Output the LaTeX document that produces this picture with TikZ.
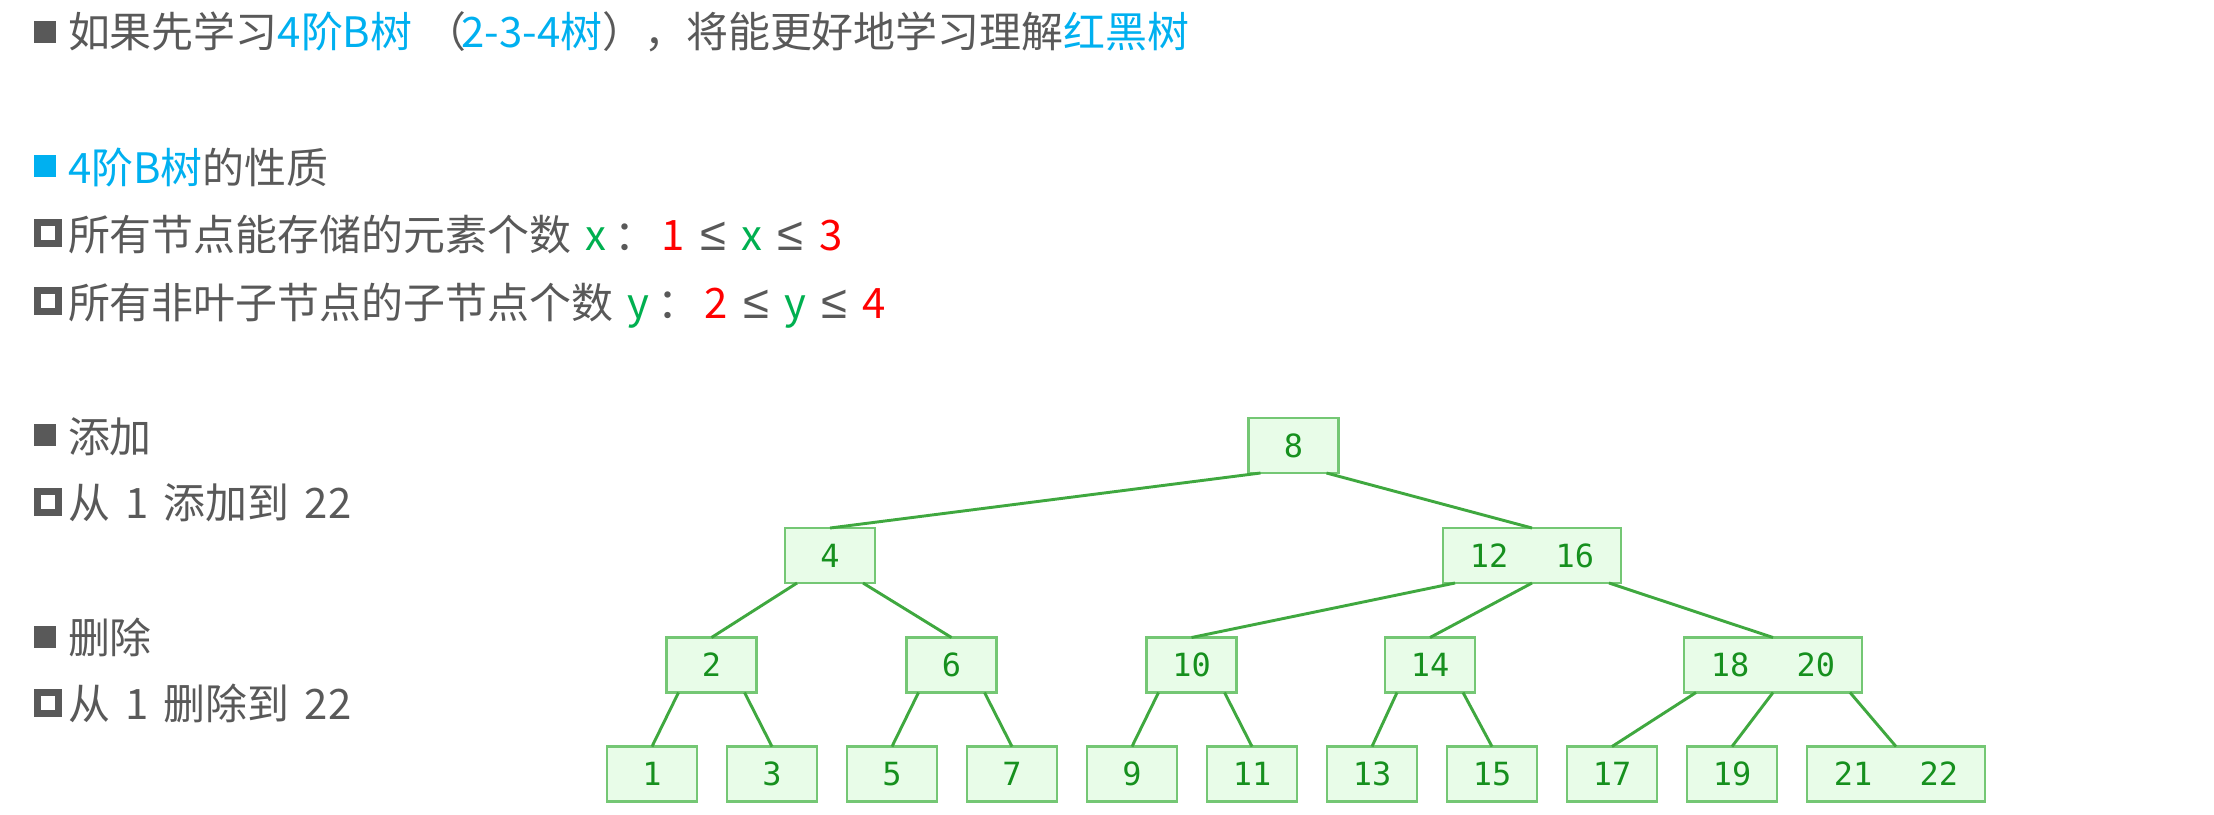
\documentclass[tikz,border=0pt]{standalone}
\usepackage{fontspec}
\setmainfont{Noto Sans CJK SC}
\newfontfamily\treefont{DejaVu Sans Mono}
\newfontfamily\relfont{Liberation Sans}
\newcommand{\myle}{{\relfont\fontsize{17pt}{18pt}\selectfont ≤}}
\newcommand{\gp}{\hspace{5.5pt}}
\newcommand{\kg}{\hspace{17pt}}
\usetikzlibrary{calc}
\definecolor{txtgray}{HTML}{595959}
\definecolor{hlblue}{HTML}{00B0F0}
\definecolor{vgreen}{HTML}{00B050}
\definecolor{vred}{HTML}{FF0000}
\definecolor{boxfill}{HTML}{E8FCE8}
\definecolor{boxdraw}{HTML}{74C774}
\definecolor{keytext}{HTML}{16901E}
\definecolor{edgecol}{HTML}{3FA83F}
\begin{document}
\begin{tikzpicture}[x=0.36pt,y=-0.36pt,
  txtline/.style={anchor=base west, inner sep=0pt, outer sep=0pt, text=txtgray,
    font=\fontsize{15.1pt}{18pt}\selectfont},
  fullsq/.style={fill=txtgray, draw=none},
  bluesq/.style={fill=hlblue, draw=none},
  hollowsq/.style={draw=txtgray, line width=2.6pt, fill=white},
  key/.style={draw=boxdraw, fill=boxfill, line width=0.75pt, minimum height=19.8pt,
    minimum width=32.4pt, inner sep=0pt, outer sep=0pt, text=keytext,
    font=\treefont\fontsize{11.5pt}{12pt}\selectfont},
  keytwo/.style={key, minimum width=64.1pt},
  link/.style={draw=edgecol, line width=1.05pt}]
\useasboundingbox[fill=white] (0,0) rectangle (2214,814);

% bullets
\fill[fullsq] (34,21) rectangle (56,43);
\fill[bluesq] (34,155) rectangle (56,177);
\draw[hollowsq] (37.6,222.6) rectangle (58.4,243.4);
\draw[hollowsq] (37.6,290.6) rectangle (58.4,311.4);
\fill[fullsq] (34,424) rectangle (56,446);
\draw[hollowsq] (37.6,491.6) rectangle (58.4,512.4);
\fill[fullsq] (34,626) rectangle (56,648);
\draw[hollowsq] (37.6,692.6) rectangle (58.4,713.4);

% text lines
\node[txtline] (l1) at (68,47) {如果先学习\textcolor{hlblue}{4阶B树}\hspace{4.5pt}（\hspace{-2pt}\textcolor{hlblue}{2-3-4树}），将能更好地学习理解\textcolor{hlblue}{红黑树}};
\node[txtline] (l2) at (68,183) {\textcolor{hlblue}{4阶B树}的性质};
\node[txtline] (l3) at (68,250) {所有节点能存储的元素个数\hspace{5pt}\textcolor{vgreen}{x}\hspace{3pt}：\hspace{2pt}\textcolor{vred}{1}\gp\myle\gp\textcolor{vgreen}{x}\gp\myle\gp\textcolor{vred}{3}};
\node[txtline] (l4) at (68,318) {所有非叶子节点的子节点个数\hspace{5pt}\textcolor{vgreen}{y}\hspace{3pt}：\hspace{2pt}\textcolor{vred}{2}\gp\myle\gp\textcolor{vgreen}{y}\gp\myle\gp\textcolor{vred}{4}};
\node[txtline] (l5) at (68,452) {添加};
\node[txtline] (l6) at (68,518) {从\gp 1\gp 添加到\gp 22};
\node[txtline] (l7) at (68,653) {删除};
\node[txtline] (l8) at (68,719) {从\gp 1\gp 删除到\gp 22};

% tree nodes
\node[key] (n8) at (1293.5,445.5) {8};
\node[key] (n4) at (830,555.5) {4};
\node[keytwo] (n1216) at (1532,555.5) {12\kg 16};
\node[key] (n2) at (711.5,665) {2};
\node[key] (n6) at (951.5,665) {6};
\node[key] (n10) at (1191.5,665) {10};
\node[key] (n14) at (1430,665) {14};
\node[keytwo] (n1820) at (1773,665) {18\kg 20};
\node[key] (n1) at (652,774) {1};
\node[key] (n3) at (772,774) {3};
\node[key] (n5) at (892,774) {5};
\node[key] (n7) at (1012,774) {7};
\node[key] (n9) at (1132,774) {9};
\node[key] (n11) at (1252,774) {11};
\node[key] (n13) at (1372,774) {13};
\node[key] (n15) at (1492,774) {15};
\node[key] (n17) at (1612,774) {17};
\node[key] (n19) at (1732,774) {19};
\node[keytwo] (n2122) at (1896,774) {21\kg 22};

% links
\draw[link] ($(n8.south west)+(12,0)$) -- (n4.north);
\draw[link] ($(n8.south east)+(-12,0)$) -- (n1216.north);
\draw[link] ($(n4.south west)+(12,0)$) -- (n2.north);
\draw[link] ($(n4.south east)+(-12,0)$) -- (n6.north);
\draw[link] ($(n1216.south west)+(12,0)$) -- (n10.north);
\draw[link] (n1216.south) -- (n14.north);
\draw[link] ($(n1216.south east)+(-12,0)$) -- (n1820.north);
\draw[link] ($(n2.south west)+(12,0)$) -- (n1.north);
\draw[link] ($(n2.south east)+(-12,0)$) -- (n3.north);
\draw[link] ($(n6.south west)+(12,0)$) -- (n5.north);
\draw[link] ($(n6.south east)+(-12,0)$) -- (n7.north);
\draw[link] ($(n10.south west)+(12,0)$) -- (n9.north);
\draw[link] ($(n10.south east)+(-12,0)$) -- (n11.north);
\draw[link] ($(n14.south west)+(12,0)$) -- (n13.north);
\draw[link] ($(n14.south east)+(-12,0)$) -- (n15.north);
\draw[link] ($(n1820.south west)+(12,0)$) -- (n17.north);
\draw[link] (n1820.south) -- (n19.north);
\draw[link] ($(n1820.south east)+(-12,0)$) -- (n2122.north);
\end{tikzpicture}
\end{document}
